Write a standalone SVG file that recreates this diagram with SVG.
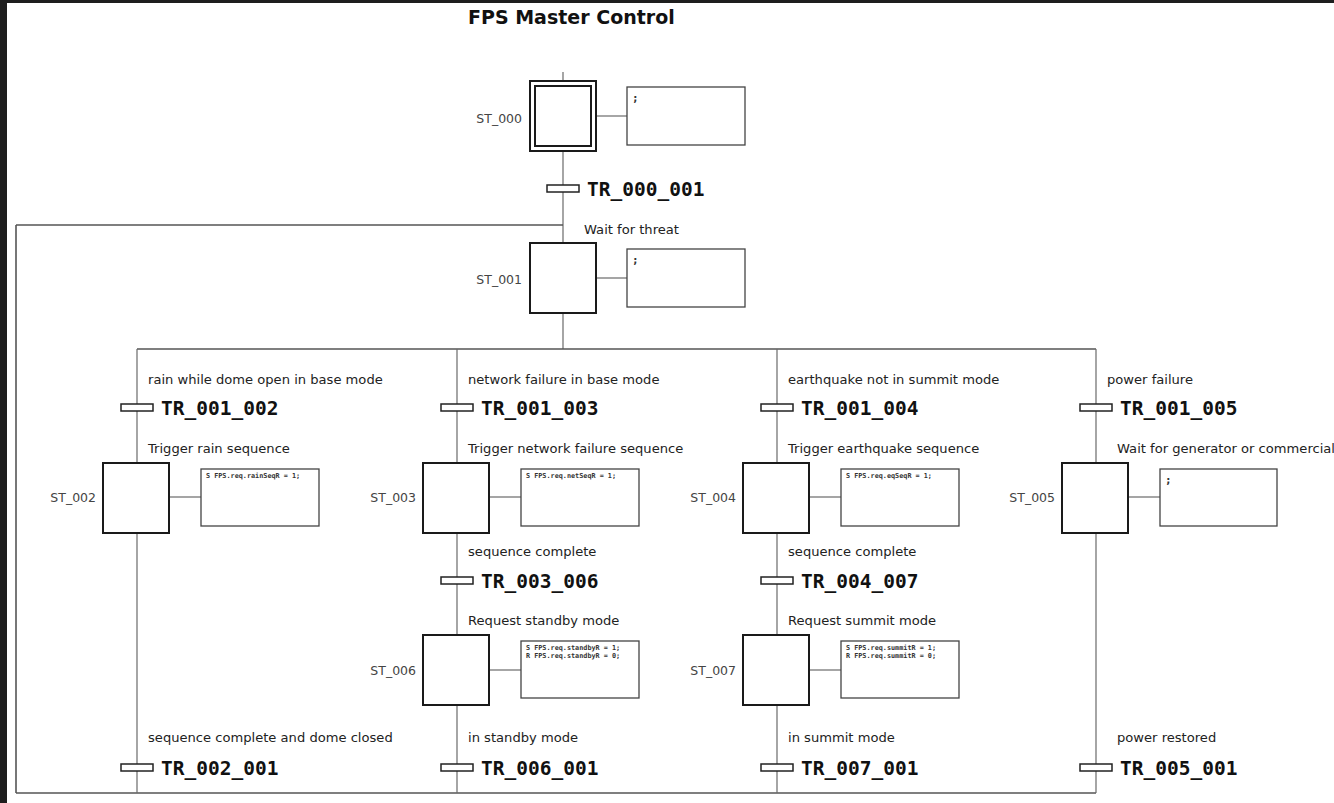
<svg xmlns="http://www.w3.org/2000/svg" width="1334" height="803" viewBox="0 0 1334 803">
<style>
.bg{fill:#fff}
.ln{stroke:#6a6a6a;stroke-width:1.2;fill:none}
.lp{stroke:#555;stroke-width:1.6;fill:none}
.st{fill:#fff;stroke:#1a1a1a;stroke-width:2}
.ac{fill:#fff;stroke:#444;stroke-width:1.3}
.tb{fill:#fff;stroke:#222;stroke-width:1.5}
.cm{font-family:"DejaVu Sans","Liberation Sans",sans-serif;font-size:13.1px;fill:#222}
.sl{font-family:"DejaVu Sans","Liberation Sans",sans-serif;font-size:12.5px;fill:#444;text-anchor:end}
.tl{font-family:"DejaVu Sans Mono","Liberation Mono",monospace;font-size:19.5px;font-weight:bold;fill:#111}
.at{font-family:"DejaVu Sans Mono","Liberation Mono",monospace;font-size:6.8px;font-weight:bold;fill:#333}
.sc{font-family:"DejaVu Sans Mono","Liberation Mono",monospace;font-size:11px;font-weight:bold;fill:#333}
.ti{font-family:"DejaVu Sans","Liberation Sans",sans-serif;font-size:19px;font-weight:bold;fill:#111}
</style>
<rect class="bg" x="0" y="0" width="1334" height="803"/>
<rect x="0" y="0" width="7" height="803" fill="#1e1e1e"/>
<rect x="0" y="0" width="1334" height="3" fill="#1e1e1e"/>
<text class="ti" x="468" y="24">FPS Master Control</text>
<g id="connectors">
<line class="ln" x1="563" y1="72" x2="563" y2="349"/>
<line class="lp" x1="16" y1="225" x2="563" y2="225"/>
<line class="lp" x1="16" y1="225" x2="16" y2="793"/>
<line class="lp" x1="16" y1="793" x2="1096" y2="793"/>
<line class="lp" x1="137" y1="349" x2="1096" y2="349"/>
<line class="ln" x1="137" y1="349" x2="137" y2="793"/>
<line class="ln" x1="457" y1="349" x2="457" y2="793"/>
<line class="ln" x1="777" y1="349" x2="777" y2="793"/>
<line class="ln" x1="1096" y1="349" x2="1096" y2="793"/>
<line class="ln" x1="596" y1="116" x2="627" y2="116"/>
<line class="ln" x1="596" y1="278" x2="627" y2="278"/>
<line class="ln" x1="169" y1="497" x2="201" y2="497"/>
<line class="ln" x1="489" y1="497" x2="521" y2="497"/>
<line class="ln" x1="809" y1="497" x2="841" y2="497"/>
<line class="ln" x1="1128" y1="497" x2="1160" y2="497"/>
<line class="ln" x1="489" y1="670" x2="521" y2="670"/>
<line class="ln" x1="809" y1="670" x2="841" y2="670"/>
</g>
<g id="ST_000">
<rect class="st" x="530" y="81" width="66" height="70"/>
<rect class="st" x="535" y="86" width="56" height="60"/>
<text class="sl" x="522" y="123">ST_000</text>
<rect class="ac" x="627" y="87" width="118" height="58"/>
<text class="sc" x="632" y="102">;</text>
</g>
<g id="TR_000_001">
<rect class="tb" x="547" y="185" width="32" height="7"/>
<text class="tl" x="587" y="196">TR_000_001</text>
</g>
<g id="ST_001">
<text class="cm" x="584" y="234">Wait for threat</text>
<rect class="st" x="530" y="243" width="66" height="70"/>
<text class="sl" x="522" y="284">ST_001</text>
<rect class="ac" x="627" y="249" width="118" height="58"/>
<text class="sc" x="632" y="264">;</text>
</g>
<g id="TR_001_002">
<text class="cm" x="148" y="384">rain while dome open in base mode</text>
<rect class="tb" x="121" y="404" width="32" height="7"/>
<text class="tl" x="161" y="415">TR_001_002</text>
</g>
<g id="ST_002">
<text class="cm" x="148" y="453">Trigger rain sequence</text>
<rect class="st" x="103" y="463" width="66" height="70"/>
<text class="sl" x="96" y="502">ST_002</text>
<rect class="ac" x="201" y="469" width="118" height="57"/>
<text class="at" x="206" y="478">S FPS.req.rainSeqR = 1;</text>
</g>
<g id="TR_002_001">
<text class="cm" x="148" y="742">sequence complete and dome closed</text>
<rect class="tb" x="121" y="764" width="32" height="7"/>
<text class="tl" x="161" y="775">TR_002_001</text>
</g>
<g id="TR_001_003">
<text class="cm" x="468" y="384">network failure in base mode</text>
<rect class="tb" x="441" y="404" width="32" height="7"/>
<text class="tl" x="481" y="415">TR_001_003</text>
</g>
<g id="ST_003">
<text class="cm" x="468" y="453">Trigger network failure sequence</text>
<rect class="st" x="423" y="463" width="66" height="70"/>
<text class="sl" x="416" y="502">ST_003</text>
<rect class="ac" x="521" y="469" width="118" height="57"/>
<text class="at" x="526" y="478">S FPS.req.netSeqR = 1;</text>
</g>
<g id="TR_003_006">
<text class="cm" x="468" y="556">sequence complete</text>
<rect class="tb" x="441" y="577" width="32" height="7"/>
<text class="tl" x="481" y="588">TR_003_006</text>
</g>
<g id="ST_006">
<text class="cm" x="468" y="625">Request standby mode</text>
<rect class="st" x="423" y="635" width="66" height="70"/>
<text class="sl" x="416" y="675">ST_006</text>
<rect class="ac" x="521" y="641" width="118" height="57"/>
<text class="at" x="526" y="650">S FPS.req.standbyR = 1;</text>
<text class="at" x="526" y="658">R FPS.req.standbyR = 0;</text>
</g>
<g id="TR_006_001">
<text class="cm" x="468" y="742">in standby mode</text>
<rect class="tb" x="441" y="764" width="32" height="7"/>
<text class="tl" x="481" y="775">TR_006_001</text>
</g>
<g id="TR_001_004">
<text class="cm" x="788" y="384">earthquake not in summit mode</text>
<rect class="tb" x="761" y="404" width="32" height="7"/>
<text class="tl" x="801" y="415">TR_001_004</text>
</g>
<g id="ST_004">
<text class="cm" x="788" y="453">Trigger earthquake sequence</text>
<rect class="st" x="743" y="463" width="66" height="70"/>
<text class="sl" x="736" y="502">ST_004</text>
<rect class="ac" x="841" y="469" width="118" height="57"/>
<text class="at" x="846" y="478">S FPS.req.eqSeqR = 1;</text>
</g>
<g id="TR_004_007">
<text class="cm" x="788" y="556">sequence complete</text>
<rect class="tb" x="761" y="577" width="32" height="7"/>
<text class="tl" x="801" y="588">TR_004_007</text>
</g>
<g id="ST_007">
<text class="cm" x="788" y="625">Request summit mode</text>
<rect class="st" x="743" y="635" width="66" height="70"/>
<text class="sl" x="736" y="675">ST_007</text>
<rect class="ac" x="841" y="641" width="118" height="57"/>
<text class="at" x="846" y="650">S FPS.req.summitR = 1;</text>
<text class="at" x="846" y="658">R FPS.req.summitR = 0;</text>
</g>
<g id="TR_007_001">
<text class="cm" x="788" y="742">in summit mode</text>
<rect class="tb" x="761" y="764" width="32" height="7"/>
<text class="tl" x="801" y="775">TR_007_001</text>
</g>
<g id="TR_001_005">
<text class="cm" x="1107" y="384">power failure</text>
<rect class="tb" x="1080" y="404" width="32" height="7"/>
<text class="tl" x="1120" y="415">TR_001_005</text>
</g>
<g id="ST_005">
<text class="cm" x="1117" y="453">Wait for generator or commercial</text>
<rect class="st" x="1062" y="463" width="66" height="70"/>
<text class="sl" x="1055" y="502">ST_005</text>
<rect class="ac" x="1160" y="469" width="117" height="57"/>
<text class="sc" x="1165" y="484">;</text>
</g>
<g id="TR_005_001">
<text class="cm" x="1117" y="742">power restored</text>
<rect class="tb" x="1080" y="764" width="32" height="7"/>
<text class="tl" x="1120" y="775">TR_005_001</text>
</g>
</svg>
